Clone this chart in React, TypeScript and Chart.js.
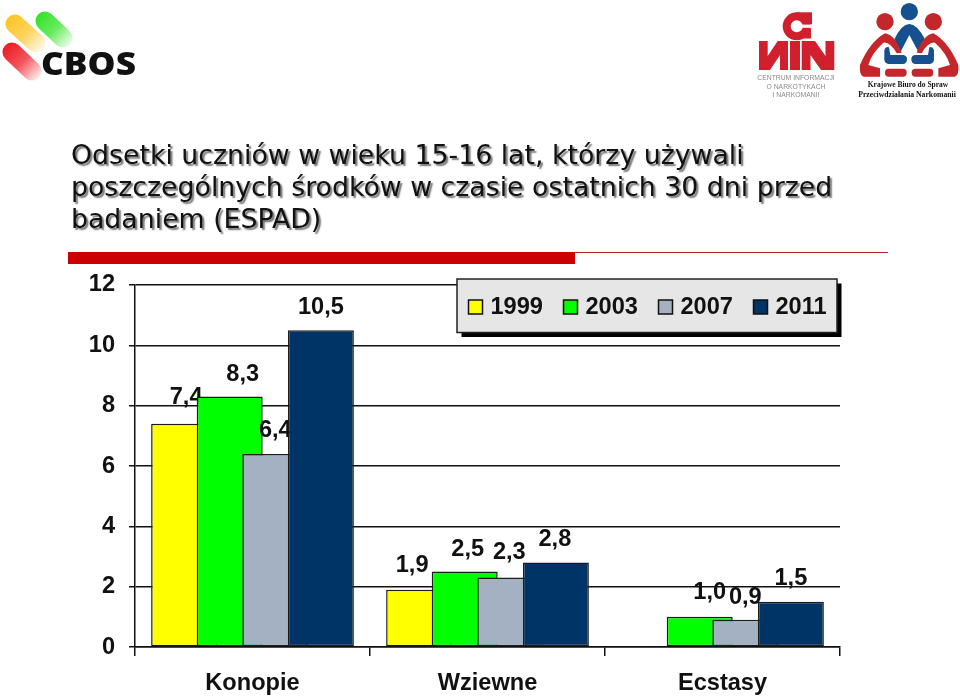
import React, { useEffect, useRef } from "react";
import { Chart, registerables } from "chart.js";

Chart.register(...registerables);

const categories = ["Konopie", "Wziewne", "Ecstasy"];
const years = ["1999", "2003", "2007", "2011"];
const values1999 = [7.4, 1.9, null];
const values2003 = [8.3, 2.5, 1.0];
const values2007 = [6.4, 2.3, 0.9];
const values2011 = [10.5, 2.8, 1.5];
const yTicks = [0, 2, 4, 6, 8, 10, 12];
const titleLines = [
  "Odsetki uczniów w wieku 15-16 lat, którzy używali",
  "poszczególnych środków w czasie ostatnich 30 dni przed",
  "badaniem (ESPAD)",
];

const seriesValues = [values1999, values2003, values2007, values2011];
const seriesColors = ["#ffff00", "#00ff00", "#a3b1c2", "#003366"];
const edge = "#1c1c1c";
const sansBold = "bold 23.6px 'Liberation Sans'";

// hand-placed label nudges of the original slide: [dx, dy] per series and category
const labelNudge = [
  [[2, -2], [-7, 0], [0, 0]],
  [[13, 2], [3, 2], [10, 0]],
  [[0, 1], [-1, -1], [0, 2]],
  [[0, 1], [-1, 1], [0, 1]],
];

const formatValue = (v: number) => v.toFixed(1).replace(".", ",");

// Series are painted left to right so each bar and its label sit under the next series.
const paintInSeriesOrder = {
  id: "paintInSeriesOrder",
  beforeDatasetsDraw(chart: any) {
    const { ctx } = chart;
    chart.getSortedVisibleDatasetMetas().forEach((meta: any) => {
      meta.controller.draw();
      const ds = chart.data.datasets[meta.index];
      ctx.save();
      ctx.font = sansBold;
      ctx.fillStyle = "#111";
      ctx.textAlign = "center";
      ctx.textBaseline = "middle";
      meta.data.forEach((el: any, i: number) => {
        const v = ds.data[i];
        if (v == null) return;
        const [dx, dy] = labelNudge[meta.index][i];
        ctx.fillText(formatValue(v), el.x + dx, el.y - 24 + dy);
      });
      ctx.restore();
    });
    return false;
  },
};

const slideLegend = {
  id: "slideLegend",
  afterDraw(chart: any) {
    const { ctx } = chart;
    const left = 457, top = 279, w = 380, h = 53.5;
    ctx.save();
    ctx.fillStyle = "#000";
    ctx.fillRect(left + 4.5, top + 4.5, w, h);
    ctx.fillStyle = "#e6e6e6";
    ctx.strokeStyle = "#222";
    ctx.lineWidth = 1.5;
    ctx.fillRect(left, top, w, h);
    ctx.strokeRect(left, top, w, h);
    chart.data.datasets.forEach((ds: any, i: number) => {
      const x = 468.5 + i * 95;
      ctx.fillStyle = ds.backgroundColor;
      ctx.fillRect(x, 300, 14, 14);
      ctx.strokeStyle = "#111";
      ctx.lineWidth = 1.5;
      ctx.strokeRect(x, 300, 14, 14);
      ctx.fillStyle = "#111";
      ctx.font = sansBold;
      ctx.textAlign = "left";
      ctx.textBaseline = "middle";
      ctx.fillText(ds.label, x + 22, 307.5);
    });
    ctx.restore();
  },
};

const titleShadow = {
  id: "titleShadow",
  beforeDraw(chart: any) {
    const t = chart.titleBlock;
    if (!t || t.__shadowed) return;
    t.__shadowed = true;
    const draw = t.draw.bind(t);
    t.draw = (...a: any[]) => {
      const { ctx } = chart;
      ctx.save();
      ctx.shadowColor = "rgba(0,0,0,0.55)";
      ctx.shadowOffsetX = 2;
      ctx.shadowOffsetY = 2;
      ctx.shadowBlur = 1.5;
      draw(...a);
      ctx.restore();
    };
  },
};

function CbosLogo() {
  const pill = (x1: number, y1: number, x2: number, y2: number, id: string, c: string) => (
    <g key={id}>
      <defs>
        <linearGradient id={id} gradientUnits="userSpaceOnUse" x1={x1 - 6} y1={y1 - 6} x2={x2 + 7} y2={y2 + 7}>
          <stop offset="0" stopColor={c} />
          <stop offset="0.5" stopColor={c} stopOpacity="0.75" />
          <stop offset="1" stopColor={c} stopOpacity="0.08" />
        </linearGradient>
      </defs>
      <line x1={x1} y1={y1} x2={x2} y2={y2} stroke={`url(#${id})`} strokeWidth="19" strokeLinecap="round" />
    </g>
  );
  return (
    <svg width="145" height="90" style={{ position: "absolute", left: 0, top: 0 }}>
      {pill(15, 24, 36, 43, "py", "#fdc527")}
      {pill(45, 21, 63, 38, "pg", "#36e32a")}
      {pill(12, 52, 32, 71, "pr", "#ee1c25")}
      <text x="41" y="75" fontFamily="'Open Sans'" fontWeight="800" fontSize="32" textLength="95" lengthAdjust="spacingAndGlyphs" fill="#111">CBOS</text>
    </svg>
  );
}

function CinLogo() {
  const red = "#d0202e";
  return (
    <svg width="100" height="100" style={{ position: "absolute", left: 750, top: 0 }}>
      <circle cx="46.7" cy="26.3" r="14" fill={red} />
      <rect x="46" y="12.3" width="16" height="12" fill={red} />
      <rect x="46" y="28.5" width="15" height="10" fill={red} />
      <circle cx="46.7" cy="26.3" r="6" fill="#fff" />
      <rect x="46.7" y="24.6" width="17" height="3.2" fill="#fff" />
      <path d="M9 41 H38 V70 H9 Z M17.7 41 L27.7 41 L17.7 56 Z M30 70 L20 70 L30 55 Z" fill={red} fillRule="evenodd" />
      <rect x="40" y="41" width="10" height="29" fill={red} />
      <path d="M51.7 41 H84.3 V70 H51.7 Z M75.5 41 L65 41 L75.5 56 Z M60.5 70 L71 70 L60.5 55 Z" fill={red} fillRule="evenodd" />
      <g fontFamily="'Liberation Sans'" fontSize="6.8" fill="#8a8a8a" textAnchor="middle">
        <text x="46" y="80">CENTRUM INFORMACJI</text>
        <text x="46" y="88.5">O NARKOTYKACH</text>
        <text x="46" y="97">I NARKOMANII</text>
      </g>
    </svg>
  );
}

function KbLogo() {
  const red = "#c3272b";
  const blue = "#17508f";
  const figure = (
    <>
      <circle cx="90" cy="65" r="26" fill={red} />
      <path d="M90 100 Q120 105 140 158 L125 160 Q105 125 85 128 Q50 160 40 195 L75 205 V230 H25 Q12 225 15 195 Q45 125 90 100 Z" fill={red} />
      <rect x="90" y="206" width="65" height="24" rx="11" fill={red} />
      <path d="M88 150 Q92 138 102 142 L106 165 H145 Q156 166 156 178 Q156 192 143 192 H100 Q86 190 88 170 Z" fill={blue} />
    </>
  );
  return (
    <svg width="110" height="100" style={{ position: "absolute", left: 850, top: 0 }}>
      <g transform="translate(5,0) scale(0.3333)">
        <circle cx="163" cy="35" r="26" fill={blue} />
        <path d="M118 118 Q140 72 163 72 Q186 72 210 118 L190 155 L163 105 L137 155 Z" fill={blue} />
        {figure}
        <g transform="translate(325,0) scale(-1,1)">{figure}</g>
      </g>
      <g fontFamily="'Liberation Serif'" fontWeight="700" fill="#111" textAnchor="middle">
        <text x="58" y="87" fontSize="7.5">Krajowe Biuro do Spraw</text>
        <text x="57" y="97" fontSize="7.7">Przeciwdziałania Narkomanii</text>
      </g>
    </svg>
  );
}

export default function App() {
  const ref = useRef<HTMLCanvasElement>(null);

  useEffect(() => {
    const chart = new Chart(ref.current as HTMLCanvasElement, {
      type: "bar",
      data: {
        labels: categories,
        datasets: years.map((y, i) => ({
          label: y,
          data: seriesValues[i],
          backgroundColor: seriesColors[i],
          borderColor: edge,
          borderWidth: 1.5,
          borderSkipped: false,
          categoryPercentage: 0.776,
          barPercentage: 1.447,
        })),
      },
      options: {
        responsive: false,
        animation: false,
        layout: { padding: { left: 71, right: 120, top: 141, bottom: 0 } },
        plugins: {
          legend: { display: false },
          tooltip: { enabled: false },
          title: {
            display: true,
            text: titleLines,
            align: "start",
            color: "#111",
            font: { family: "'DejaVu Sans'", size: 26.75, weight: "normal", lineHeight: 1.196 },
            padding: { top: 0, bottom: 48 },
          },
        },
        scales: {
          x: {
            type: "category",
            grid: {
              offset: true,
              drawOnChartArea: false,
              color: "#111",
              lineWidth: 1.5,
              tickLength: 9,
            },
            border: { color: "#111", width: 1.5 },
            ticks: {
              color: "#111",
              font: { family: "'Liberation Sans'", size: 23.6, weight: "bold" },
              padding: 13,
              maxRotation: 0,
            },
            afterFit(scale: any) {
              scale.height = 50;
            },
          },
          y: {
            min: 0,
            max: 12,
            afterBuildTicks(scale: any) {
              scale.ticks = yTicks.map((value) => ({ value }));
            },
            grid: { color: "#111", lineWidth: 1.5, tickLength: 6 },
            border: { color: "#111", width: 1.5 },
            ticks: {
              color: "#111",
              font: { family: "'Liberation Sans'", size: 23.6, weight: "bold" },
              padding: 14,
            },
            afterFit(scale: any) {
              scale.width = 64;
            },
          },
        },
      },
      plugins: [paintInSeriesOrder, slideLegend, titleShadow],
    } as any);
    return () => chart.destroy();
  }, []);

  return (
    <div style={{ position: "absolute", left: 0, top: 0, width: 960, height: 697, overflow: "hidden", background: "#fff" }}>
      <canvas ref={ref} width={960} height={697} style={{ display: "block" }} />
      <div style={{ position: "absolute", left: 68, top: 252, width: 507, height: 12, background: "#cc0000" }} />
      <div style={{ position: "absolute", left: 575, top: 252, width: 313, height: 1, background: "#b5202a" }} />
      <CbosLogo />
      <CinLogo />
      <KbLogo />
    </div>
  );
}
